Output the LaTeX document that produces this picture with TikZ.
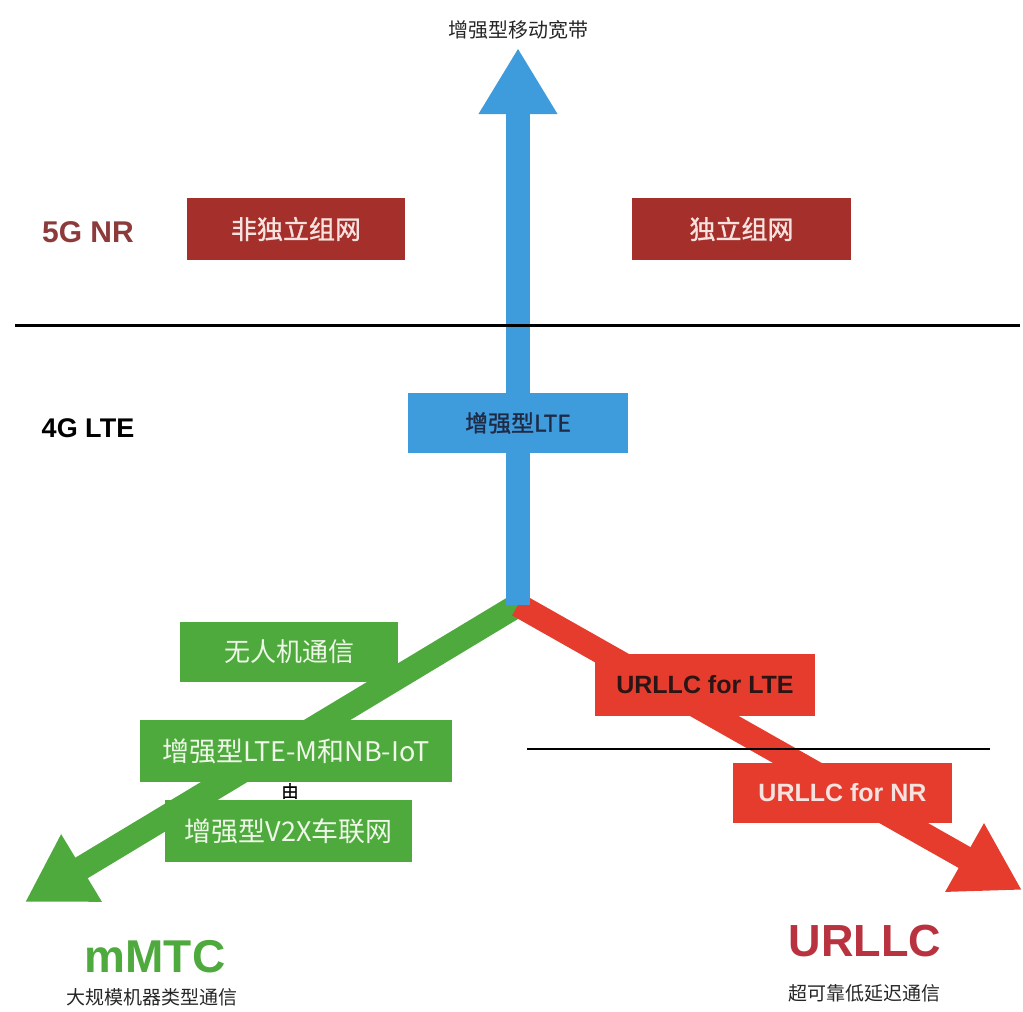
\documentclass[tikz,border=0pt]{standalone}
\usepackage{fontspec}
\setmainfont{Liberation Sans}
\newfontfamily\cjk{Noto Sans CJK SC}
\newfontfamily\cjkb[FakeBold=1.2]{Noto Sans CJK SC}
\usetikzlibrary{arrows.meta}
\definecolor{boxdark}{HTML}{A52F2A}
\definecolor{nrtext}{HTML}{8C3A3A}
\definecolor{embbblue}{HTML}{3E9BDC}
\definecolor{mgreen}{HTML}{4FAA3E}
\definecolor{ured}{HTML}{E63C2E}
\definecolor{urlabel}{HTML}{B8333F}
\definecolor{navy}{HTML}{1F2A44}
\definecolor{lightgreen}{HTML}{EEF7E8}
\definecolor{pinkwhite}{HTML}{F6E2DF}
\definecolor{darktext}{HTML}{2B1414}
\tikzset{
  shaft/.style={line width=24pt},
  bigtip/.style={-{Triangle[length=66pt,width=74pt]}},
  sep/.style={line width=3pt, black},
  boxbase/.style={inner sep=0pt, minimum height=62pt},
  darkbox/.style={boxbase, fill=boxdark, text=pinkwhite},
  bluebox/.style={boxbase, fill=embbblue, text=navy},
  greenbox/.style={boxbase, fill=mgreen, text=lightgreen},
  redbox/.style={boxbase, fill=ured},
}
\begin{document}
\begin{tikzpicture}[x=1pt,y=-1pt]
\useasboundingbox (0,0) rectangle (1023,1012);
% coordinates
\coordinate (J) at (518,605);
\coordinate (embbtip) at (518,48);
\coordinate (mtctip) at (25,902);
\coordinate (urtip) at (1022,890);
\coordinate (L1a) at (15,325);
\coordinate (L1b) at (1020,325);
\coordinate (L2a) at (527,749);
\coordinate (L2b) at (990,749);
% arrows
\draw[shaft, mgreen, bigtip] (J) -- (mtctip);
\draw[shaft, ured, bigtip] (J) -- (urtip);
\draw[shaft, embbblue, bigtip] (J) -- (embbtip);
% separators
\draw[sep] (L1a) -- (L1b);
\draw[sep, line width=2.5pt] (L2a) -- (L2b);
% labels
\node[text=black!85] (embb) at (518,30) {\fontsize{20}{20}\selectfont\cjk 增强型移动宽带};
\node[text=nrtext] (nr) at (88,232) {\fontsize{30}{30}\selectfont\bfseries 5G NR};
\node (lte) at (88,428) {\fontsize{27}{27}\selectfont\bfseries 4G LTE};
% 5G boxes
\node[darkbox, minimum width=218pt] (nsa) at (296,229) {\fontsize{26}{26}\selectfont\cjkb 非独立组网};
\node[darkbox, minimum width=219pt] (sa) at (741.5,229) {\fontsize{26}{26}\selectfont\cjkb 独立组网};
% 4G box
\node[bluebox, minimum width=220pt, minimum height=60pt] (elte) at (518,423) {\fontsize{23}{23}\selectfont\cjkb 增强型LTE};
% green boxes
\node[greenbox, minimum width=218pt, minimum height=60pt] (uav) at (289,652) {\fontsize{26}{26}\selectfont\cjk 无人机通信};
\node[text=black] (you) at (290,791) {\fontsize{17}{17}\selectfont\cjkb 由};
\node[greenbox, minimum width=312pt] (ltem) at (296,751) {\fontsize{27}{27}\selectfont\cjk 增强型LTE-M和NB-IoT};
\node[greenbox, minimum width=247pt] (v2x) at (288.5,831) {\fontsize{27}{27}\selectfont\cjk 增强型V2X车联网};
% red boxes
\node[redbox, minimum width=220pt, text=darktext] (ulte) at (705,685) {\fontsize{25}{25}\selectfont\bfseries URLLC for LTE};
\node[redbox, minimum width=219pt, minimum height=60pt, text=pinkwhite] (unr) at (842.5,793) {\fontsize{25}{25}\selectfont\bfseries URLLC for NR};
% bottom labels
\node[text=mgreen] (mmtc) at (155,957) {\fontsize{46}{46}\selectfont\bfseries mMTC};
\node[text=black!85] (mmtcsub) at (152,997) {\fontsize{19}{19}\selectfont\cjk 大规模机器类型通信};
\node[text=urlabel] (urllc) at (865,941) {\fontsize{45}{45}\selectfont\bfseries URLLC};
\node[text=black!85] (urllcsub) at (864,993) {\fontsize{19}{19}\selectfont\cjk 超可靠低延迟通信};
\end{tikzpicture}
\end{document}
